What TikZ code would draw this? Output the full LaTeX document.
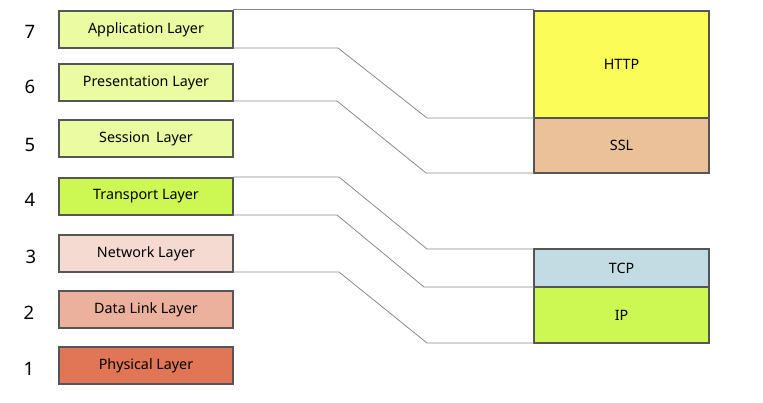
\documentclass[tikz,border=0pt]{standalone}
\usepackage{fontspec}
\setmainfont{Noto Sans}
\usetikzlibrary{calc}
\definecolor{upperfill}{HTML}{EAFBA2}
\definecolor{limefill}{HTML}{CDF752}
\definecolor{netfill}{HTML}{F5DAD2}
\definecolor{linkfill}{HTML}{EBB19C}
\definecolor{physfill}{HTML}{E07656}
\definecolor{httpfill}{HTML}{FCFC58}
\definecolor{sslfill}{HTML}{EAC199}
\definecolor{tcpfill}{HTML}{C3DCE4}
\definecolor{boxline}{HTML}{555555}
\definecolor{wire}{HTML}{8A8A8A}
\tikzset{
  layer/.style={draw=boxline, line width=1.4pt, minimum width=174pt, minimum height=37pt,
    inner sep=0pt, outer sep=0pt, font=\fontsize{14.3}{16}\selectfont},
  proto/.style={draw=boxline, line width=1.4pt, minimum width=175pt,
    inner sep=0pt, outer sep=0pt, font=\fontsize{14.3}{16}\selectfont},
  num/.style={font=\fontsize{18.5}{20}\selectfont, inner sep=0pt},
  wirestyle/.style={draw=wire, line width=0.8pt},
}
\begin{document}
\begin{tikzpicture}[x=1pt, y=-1pt]
\useasboundingbox (0,0) rectangle (763,403);

% OSI layers
\node[layer, fill=upperfill] (app)   at (146,29.5)  {Application Layer};
\node[layer, fill=upperfill] (pres)  at (146,82.5)  {Presentation Layer};
\node[layer, fill=upperfill] (sess)  at (146,138.5) {Session\, Layer};
\node[layer, fill=limefill]  (trans) at (146,196.5) {Transport Layer};
\node[layer, fill=netfill]   (net)   at (146,253.5) {Network Layer};
\node[layer, fill=linkfill]  (dlink) at (146,309.5) {Data Link Layer};
\node[layer, fill=physfill]  (phys)  at (146,365.5) {Physical Layer};

% layer numbers
\node[num] (n7) at (30,32)  {7};
\node[num] (n6) at (30,87)  {6};
\node[num] (n5) at (30,145) {5};
\node[num] (n4) at (30,200) {4};
\node[num] (n3) at (31,257) {3};
\node[num] (n2) at (29,313) {2};
\node[num] (n1) at (29,369) {1};

% protocol stacks
\node[proto, fill=httpfill, minimum height=107pt] (http) at (621.5,64.5)  {HTTP};
\node[proto, fill=sslfill,  minimum height=55pt]  (ssl)  at (621.5,145.5) {SSL};
\node[proto, fill=tcpfill,  minimum height=38pt]  (tcp)  at (621.5,268)   {TCP};
\node[proto, fill=limefill, minimum height=56pt]  (ip)   at (621.5,315)   {IP};

% mapping wires
\draw[wirestyle] ($(app.north east)+(0,-1.5)$) -- ($(http.north west)+(0,-1.5)$);
\draw[wirestyle] (app.south east) -- +(105,0) -- ($(http.south west)+(-107,0)$) -- (http.south west);
\draw[wirestyle] (pres.south east) -- +(104,0) -- ($(ssl.south west)+(-108,0)$) -- (ssl.south west);
\draw[wirestyle] ($(trans.north east)+(0,-1)$) -- +(106,0) -- ($(tcp.north west)+(-107,0)$) -- (tcp.north west);
\draw[wirestyle] (trans.south east) -- +(104,0) -- ($(tcp.south west)+(-110,0)$) -- (tcp.south west);
\draw[wirestyle] (net.south east) -- +(106,0) -- ($(ip.south west)+(-107,0)$) -- (ip.south west);
\end{tikzpicture}
\end{document}
